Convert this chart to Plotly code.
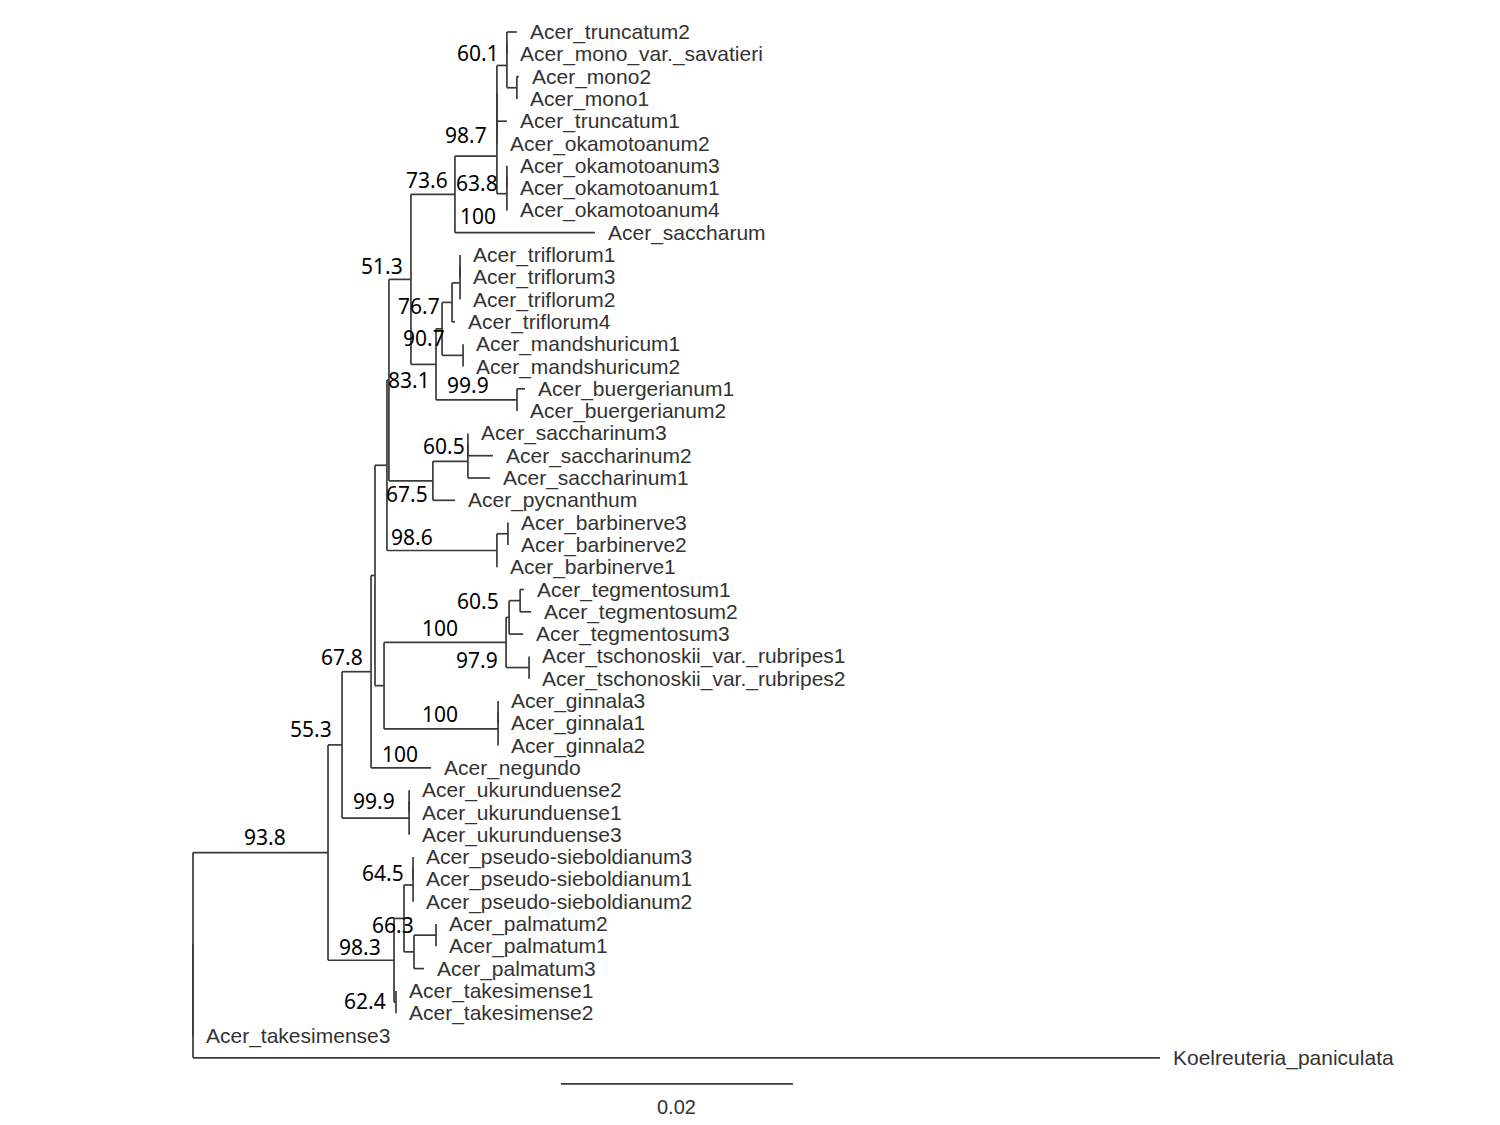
import plotly.graph_objects as go

# tree in newick form, branch lengths in substitutions/site (scale bar = 0.02)
P = "((Acer_truncatum2:0.00086,Acer_mono_var._savatieri:0):0,(Acer_mono2:0.00017,Acer_mono1:0):0.00086)"
Q = "((Acer_okamotoanum3:0,Acer_okamotoanum1:0):0,Acer_okamotoanum4:0)"
O = f"((({P}:0.00086,Acer_truncatum1:0.00086):0,Acer_okamotoanum2:0):0,{Q}:0.00086)"
M = f"({O}:0.00362,Acer_saccharum:0.01207)"
TRI = "(((Acer_triflorum1:0,Acer_triflorum3:0):0,Acer_triflorum2:0):0.00069,Acer_triflorum4:0.00026)"
V = f"({TRI}:0.00086,(Acer_mandshuricum1:0,Acer_mandshuricum2:0):0.00181)"
N = f"({V}:0.00052,(Acer_buergerianum1:0.00069,Acer_buergerianum2:0):0.00698)"
L = f"({M}:0.00379,{N}:0.00216)"
K = "((Acer_saccharinum3:0,Acer_saccharinum2:0.00216):0,Acer_saccharinum1:0.00190)"
J = f"({K}:0.00302,Acer_pycnanthum:0.00190)"
G = f"({L}:0.00190,{J}:0.00379)"
BARB = "((Acer_barbinerve3:0,Acer_barbinerve2:0):0.00095,Acer_barbinerve1:0)"
B = f"({G}:0.00017,{BARB}:0.00948)"
E = "((Acer_tegmentosum1:0.00034,Acer_tegmentosum2:0.00095):0.00095,Acer_tegmentosum3:0.00121)"
D = f"({E}:0.00026,(Acer_tschonoskii_var._rubripes1:0,Acer_tschonoskii_var._rubripes2:0):0.00198)"
GINN = "((Acer_ginnala3:0,Acer_ginnala1:0):0,Acer_ginnala2:0)"
C = f"({D}:0.01052,{GINN}:0.00983)"
A = f"({B}:0.00103,{C}:0.00078)"
N678 = f"({A}:0.00034,Acer_negundo:0.00517)"
U = "((Acer_ukurunduense2:0,Acer_ukurunduense1:0):0,Acer_ukurunduense3:0)"
N553 = f"({N678}:0.00250,{U}:0.00578)"
PS = "((Acer_pseudo-sieboldianum3:0,Acer_pseudo-sieboldianum1:0):0,Acer_pseudo-sieboldianum2:0)"
PA = "((Acer_palmatum2:0,Acer_palmatum1:0):0.00190,Acer_palmatum3:0.00086)"
X = f"({PS}:0.00078,{PA}:0.00086)"
N983 = f"({X}:0.00086,(Acer_takesimense1:0,Acer_takesimense2:0):0.00017)"
INGROUP = f"({N553}:0.00121,{N983}:0.00569)"
newick = f"(({INGROUP}:0.01164,Acer_takesimense3:0):0,Koelreuteria_paniculata:0.08336);"

# bootstrap values and where they sit (distance, row)
boot_text = ["60.1", "98.7", "73.6", "63.8", "100", "51.3", "76.7", "90.7", "83.1", "99.9",
             "60.5", "67.5", "98.6", "60.5", "100", "97.9", "67.8", "100", "55.3", "100",
             "99.9", "93.8", "64.5", "66.3", "98.3", "62.4"]
boot_x = [0.02655, 0.02552, 0.02216, 0.02647, 0.02629, 0.01828, 0.02147, 0.02190, 0.02060, 0.02569,
          0.02362, 0.02043, 0.02086, 0.02655, 0.02302, 0.02647, 0.01483, 0.02302, 0.01216, 0.01957,
          0.01759, 0.00819, 0.01836, 0.01922, 0.01638, 0.01681]
boot_row = [0.94, 4.62, 6.64, 6.77, 8.25, 10.49, 12.29, 13.72, 15.61, 15.83,
            18.57, 20.72, 22.65, 25.52, 26.73, 28.16, 28.03, 30.58, 31.26, 32.38,
            34.48, 36.10, 37.71, 40.04, 41.03, 43.45]

scale_len = 0.02
scale_x0 = 0.03172
scale_row = 47.17


def parse(s):
    pos = 0

    def node():
        nonlocal pos
        kids = []
        if s[pos] == '(':
            pos += 1
            while True:
                kids.append(node())
                if s[pos] == ',':
                    pos += 1
                    continue
                pos += 1  # ')'
                break
        start = pos
        while pos < len(s) and s[pos] not in ',():;':
            pos += 1
        name = s[start:pos]
        length = 0.0
        if pos < len(s) and s[pos] == ':':
            pos += 1
            start = pos
            while pos < len(s) and s[pos] not in ',();':
                pos += 1
            length = float(s[start:pos])
        return {'name': name, 'len': length, 'kids': kids}

    return node()


tree = parse(newick)
tips = []


def layout(n, x0):
    n['x'] = x0 + n['len']
    if not n['kids']:
        n['y'] = len(tips)
        tips.append(n)
        return
    for k in n['kids']:
        layout(k, n['x'])
    n['y'] = (n['kids'][0]['y'] + n['kids'][-1]['y']) / 2


tree['len'] = 0
layout(tree, 0)

xs, ys = [], []


def segs(n):
    if not n['kids']:
        return
    xs.extend([n['x'], n['x'], None])
    ys.extend([n['kids'][0]['y'], n['kids'][-1]['y'], None])
    for k in n['kids']:
        xs.extend([n['x'], k['x'], None])
        ys.extend([k['y'], k['y'], None])
        segs(k)


segs(tree)

fig = go.Figure()
fig.add_trace(go.Scatter(x=xs, y=ys, mode='lines', line=dict(color='#3a3a3a', width=1.7),
                         hoverinfo='skip', showlegend=False))
fig.add_trace(go.Scatter(x=[scale_x0, scale_x0 + scale_len], y=[scale_row, scale_row], mode='lines',
                         line=dict(color='#3a3a3a', width=1.7), hoverinfo='skip', showlegend=False))

for t in tips:
    fig.add_annotation(x=t['x'], y=t['y'], text=t['name'], showarrow=False, xanchor='left',
                       yanchor='middle', xshift=11,
                       font=dict(family='Liberation Sans, Arial', size=21, color='#333333'))

for txt, bx, br in zip(boot_text, boot_x, boot_row):
    fig.add_annotation(x=bx, y=br, text=txt, showarrow=False, xanchor='right', yanchor='middle',
                       font=dict(family='Noto Sans, sans-serif', size=21, color='black'))

fig.add_annotation(x=scale_x0 + scale_len / 2, y=scale_row + 1.03, text=str(scale_len),
                   showarrow=False, xanchor='center', yanchor='middle',
                   font=dict(family='Liberation Sans, Arial', size=20, color='#333333'))

# page body adds an 8px offset, so the axes are set up to land on the reference pixels
k = scale_len / 232
fig.update_xaxes(range=[-185 * k, 1315 * k], visible=False)
fig.update_yaxes(range=[(1125 - 24) / 22.3, -24 / 22.3], visible=False)
fig.update_layout(width=1500, height=1125, margin=dict(l=0, r=0, t=0, b=0),
                  plot_bgcolor='white', paper_bgcolor='white', autosize=False)

fig.write_html("out.html")
